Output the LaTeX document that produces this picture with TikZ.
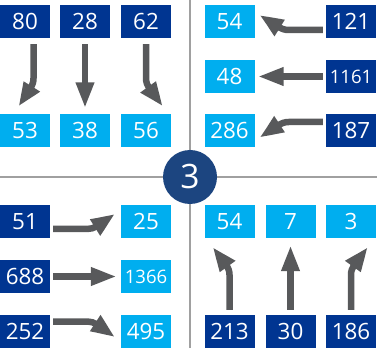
\documentclass[tikz,border=0pt]{standalone}
\usepackage{fontspec}
\setmainfont{Open Sans}
\usetikzlibrary{arrows.meta,bending}
\definecolor{navy}{RGB}{0,53,145}
\definecolor{sky}{RGB}{0,174,239}
\definecolor{ring}{RGB}{28,69,128}
\definecolor{arrowgray}{RGB}{88,89,91}
\definecolor{gridgray}{RGB}{160,160,160}

\begin{document}
\begin{tikzpicture}[
  x=1pt, y=1pt,
  box/.style={minimum width=50pt, minimum height=33pt, inner sep=0pt, text=white, font=\fontsize{22.4}{22}\selectfont},
  darkbox/.style={box, fill=navy},
  lightbox/.style={box, fill=sky},
  wide/.style={font=\fontsize{18.5}{18}\selectfont},
  flow/.style={draw=arrowgray, line width=6.5pt, -{Triangle[length=26pt, width=17pt]}},
  turn/.style={flow, -{Triangle[length=26pt, width=17pt, bend]}},
]
  \useasboundingbox (0,0) rectangle (377,348);
  % ---------------- cross and centre
  \draw[gridgray, line width=1.6pt] (190,0) -- (190,348);
  \draw[gridgray, line width=1.6pt] (0,171) -- (377,171);
  \node[circle, fill=ring, minimum size=54pt, inner sep=0pt, text=white, font=\fontsize{33.6}{34}\selectfont] (mid) at (190,171) {3};

  % ---------------- top left
  \foreach \v/\x in {80/25, 28/85, 62/146} \node[darkbox] (a\v) at (\x,326.5) {\v};
  \foreach \v/\x in {53/25, 38/85, 56/146} \node[lightbox] (b\v) at (\x,217) {\v};
  \draw[turn] ([xshift=8.5pt, yshift=-6pt]a80.south) -- ++(0,-34) to[out=-90, in=90] ([xshift=-4pt, yshift=6pt]b53.north);
  \draw[flow] ([yshift=-6pt]a28.south) -- ([yshift=6pt]b38.north);
  \draw[turn] ([yshift=-6pt]a62.south) -- ++(0,-34) to[out=-90, in=90] ([xshift=14pt, yshift=6pt]b56.north);

  % ---------------- top right
  \foreach \v/\y in {121/326.5, 187/217} \node[darkbox] (c\v) at (351,\y) {\v};
  \node[darkbox, wide] (c1161) at (351,271.5) {1161};
  \foreach \v/\y in {54/326.5, 48/271.5, 286/217} \node[lightbox] (d\v) at (229.5,\y) {\v};
  \draw[turn] ([xshift=-3pt, yshift=-8.5pt]c121.west) -- ++(-34,0) to[out=180, in=0] ([xshift=3pt, yshift=4pt]d54.east);
  \draw[flow] ([xshift=-3pt]c1161.west) -- ([xshift=3pt]d48.east);
  \draw[turn] ([xshift=-3pt, yshift=9pt]c187.west) -- ++(-34,0) to[out=180, in=0] ([xshift=3pt, yshift=-4pt]d286.east);

  % ---------------- bottom left
  \foreach \v/\y in {51/126.5, 688/71.5, 252/16.5} \node[darkbox] (e\v) at (25,\y) {\v};
  \foreach \v/\y in {25/126.5, 495/16.5} \node[lightbox] (f\v) at (146,\y) {\v};
  \node[lightbox, wide] (f1366) at (146,71.5) {1366};
  \draw[turn] ([xshift=3pt, yshift=-7.5pt]e51.east) -- ++(34,0) to[out=0, in=180] ([xshift=-4pt, yshift=5pt]f25.west);
  \draw[flow] ([xshift=3pt]e688.east) -- ([xshift=-4pt]f1366.west);
  \draw[turn] ([xshift=3pt, yshift=10pt]e252.east) -- ++(34,0) to[out=0, in=180] ([xshift=-4pt, yshift=-3pt]f495.west);

  % ---------------- bottom right
  \foreach \v/\x in {213/229.5, 30/290.5, 186/351} \node[darkbox] (g\v) at (\x,16.5) {\v};
  \foreach \v/\x in {54/229.5, 7/290.5, 3/351} \node[lightbox] (h\v) at (\x,126.5) {\v};
  \draw[turn] ([yshift=5pt]g213.north) -- ++(0,35) to[out=90, in=-90] ([xshift=-14pt, yshift=-7pt]h54.south);
  \draw[flow] ([yshift=5pt]g30.north) -- ([yshift=-7pt]h7.south);
  \draw[turn] ([yshift=5pt]g186.north) -- ++(0,35) to[out=90, in=-90] ([xshift=14pt, yshift=-7pt]h3.south);
\end{tikzpicture}
\end{document}
